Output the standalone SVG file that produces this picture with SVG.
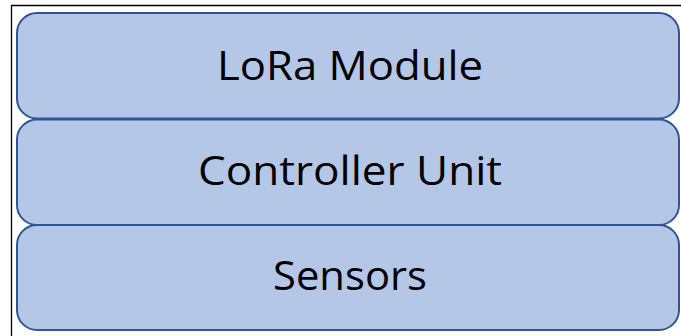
<svg xmlns="http://www.w3.org/2000/svg" width="681" height="336" viewBox="0 0 681 336">
<style>
.box{fill:#B4C7E7;stroke:#2F5597;stroke-width:2}
.lbl{font-family:"Open Sans","Liberation Sans",sans-serif;font-size:41px;fill:#000;text-anchor:middle}
</style>
<rect x="0" y="0" width="681" height="336" fill="#fff"/>
<path d="M11.5,336 V5.5 H681" fill="none" stroke="#000" stroke-width="1.3"/>
<g id="sensors">
<rect class="box" x="17" y="225" width="662" height="105" rx="20"/>
<text class="lbl" x="350" y="290" textLength="154" lengthAdjust="spacingAndGlyphs">Sensors</text>
</g>
<g id="controller">
<rect class="box" x="17" y="119.5" width="662" height="105.5" rx="20"/>
<text class="lbl" x="350" y="185" textLength="304" lengthAdjust="spacingAndGlyphs">Controller Unit</text>
</g>
<g id="lora">
<rect class="box" x="17" y="13" width="662" height="105.5" rx="20"/>
<text class="lbl" x="350" y="80" textLength="266" lengthAdjust="spacingAndGlyphs">LoRa Module</text>
</g>
<g id="connectors"></g>
</svg>
